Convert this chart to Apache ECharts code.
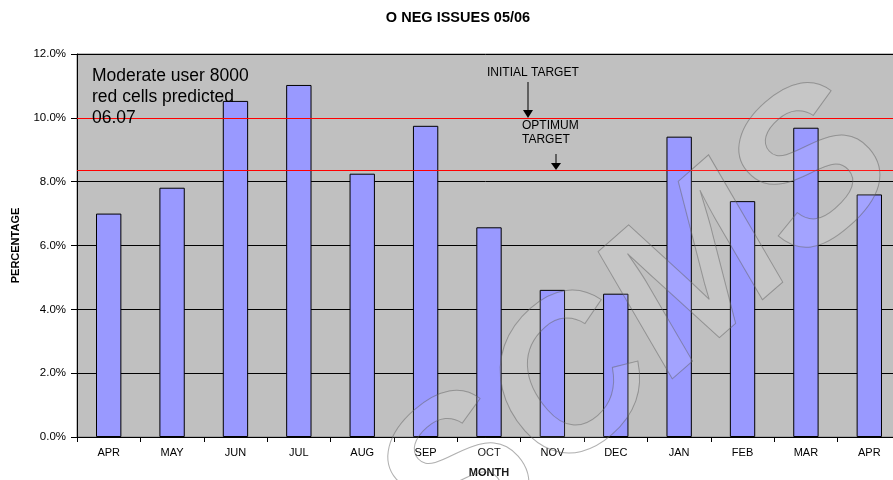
<!DOCTYPE html>
<html>
<head>
<meta charset="utf-8">
<script src="https://cdn.jsdelivr.net/npm/echarts@6/dist/echarts.min.js"></script>
<style>
  html, body { margin: 0; padding: 0; background: #ffffff; }
  #chart { width: 893px; height: 480px; }
</style>
</head>
<body>
<div id="chart"></div>
<script>
// Monthly O negative issues as a percentage, April 2005 to April 2006
const months = ['APR', 'MAY', 'JUN', 'JUL', 'AUG', 'SEP', 'OCT', 'NOV', 'DEC', 'JAN', 'FEB', 'MAR', 'APR'];
const issuePct = [7.0, 7.81, 10.53, 11.03, 8.25, 9.75, 6.57, 4.61, 4.49, 9.41, 7.39, 9.69, 7.60];
const initialTarget = 10.0;
const optimumTarget = 8.35;
const yTicks = { min: 0, max: 12, interval: 2 };

const chart = echarts.init(document.getElementById('chart'), null, { renderer: 'canvas' });

const font = 'Liberation Sans, Arial, sans-serif';

// a horizontal red target line, carried by its own empty series
function targetSeries(name, value) {
  return {
    name: name,
    type: 'line',
    data: [],
    z: 20,
    markLine: {
      silent: true,
      z: 20,
      symbol: ['none', 'none'],
      label: { show: false },
      lineStyle: { color: '#ff0000', width: 1.2, type: 'solid', opacity: 1 },
      emphasis: { disabled: true },
      data: [{ yAxis: value }]
    }
  };
}

chart.setOption({
  animation: false,
  backgroundColor: '#ffffff',
  title: {
    text: 'O NEG ISSUES 05/06',
    left: 453,
    textAlign: 'center',
    top: 5,
    textStyle: { fontFamily: font, fontSize: 14.5, fontWeight: 'bold', color: '#000' }
  },
  grid: {
    left: 77, right: -8, top: 54, bottom: 43,
    containLabel: false,
    outerBoundsMode: 'none',
    show: true,
    backgroundColor: '#c0c0c0',
    borderColor: '#808080',
    borderWidth: 1
  },
  xAxis: {
    type: 'category',
    data: months,
    name: 'MONTH',
    nameLocation: 'middle',
    nameGap: 30,
    nameTextStyle: { fontFamily: font, fontSize: 11, fontWeight: 'bold', color: '#000' },
    axisLine: { lineStyle: { color: '#000', width: 1 } },
    axisTick: { show: true, length: 5, lineStyle: { color: '#000' } },
    axisLabel: { fontFamily: font, fontSize: 11, color: '#000', margin: 10 }
  },
  yAxis: {
    type: 'value',
    min: yTicks.min, max: yTicks.max, interval: yTicks.interval,
    name: 'PERCENTAGE',
    nameLocation: 'middle',
    nameGap: 56,
    nameRotate: 90,
    nameTextStyle: { fontFamily: font, fontSize: 11, fontWeight: 'bold', color: '#000' },
    axisLine: { show: true, lineStyle: { color: '#000', width: 1 } },
    axisTick: { show: true, length: 6, lineStyle: { color: '#000' } },
    axisLabel: {
      fontFamily: font, fontSize: 11.5, color: '#000', margin: 11,
      formatter: v => v.toFixed(1) + '%'
    },
    splitLine: { show: true, lineStyle: { color: '#000', width: 1 } }
  },
  series: [
    {
      type: 'bar',
      data: issuePct,
      barWidth: '40%',
      itemStyle: { color: '#9999ff', borderColor: '#000', borderWidth: 1 }
    },
    targetSeries('INITIAL TARGET', initialTarget),
    targetSeries('OPTIMUM TARGET', optimumTarget)
  ],
  graphic: [
    // faint outlined logo lettering across the lower right
    {
      type: 'text',
      x: 640, y: 330,
      rotation: 0.72,
      z: 50,
      silent: true,
      style: {
        text: 'SCMS',
        font: 'italic bold 210px Liberation Sans, Arial, sans-serif',
        fill: 'rgba(255,255,255,0.10)',
        stroke: 'rgba(90,90,90,0.5)',
        lineWidth: 1,
        align: 'center',
        verticalAlign: 'middle'
      }
    },
    {
      type: 'text',
      left: 92, top: 66,
      z: 60,
      style: {
        text: 'Moderate user 8000\nred cells predicted\n06.07',
        font: '17.5px Liberation Sans, Arial, sans-serif',
        lineHeight: 21,
        fill: '#000'
      }
    },
    {
      type: 'text',
      left: 487, top: 67,
      z: 60,
      style: { text: 'INITIAL TARGET', font: '12px Liberation Sans, Arial, sans-serif', fill: '#000' }
    },
    {
      type: 'line', z: 60,
      shape: { x1: 528, y1: 82, x2: 528, y2: 112 },
      style: { stroke: '#000', lineWidth: 1 }
    },
    {
      type: 'polygon', z: 60,
      shape: { points: [[523, 110], [533, 110], [528, 118]] },
      style: { fill: '#000' }
    },
    {
      type: 'text',
      left: 522, top: 119,
      z: 60,
      style: { text: 'OPTIMUM\nTARGET', font: '12px Liberation Sans, Arial, sans-serif', lineHeight: 14, fill: '#000' }
    },
    {
      type: 'line', z: 60,
      shape: { x1: 556, y1: 154, x2: 556, y2: 165 },
      style: { stroke: '#000', lineWidth: 1 }
    },
    {
      type: 'polygon', z: 60,
      shape: { points: [[551, 163], [561, 163], [556, 170]] },
      style: { fill: '#000' }
    }
  ]
});
</script>
</body>
</html>
